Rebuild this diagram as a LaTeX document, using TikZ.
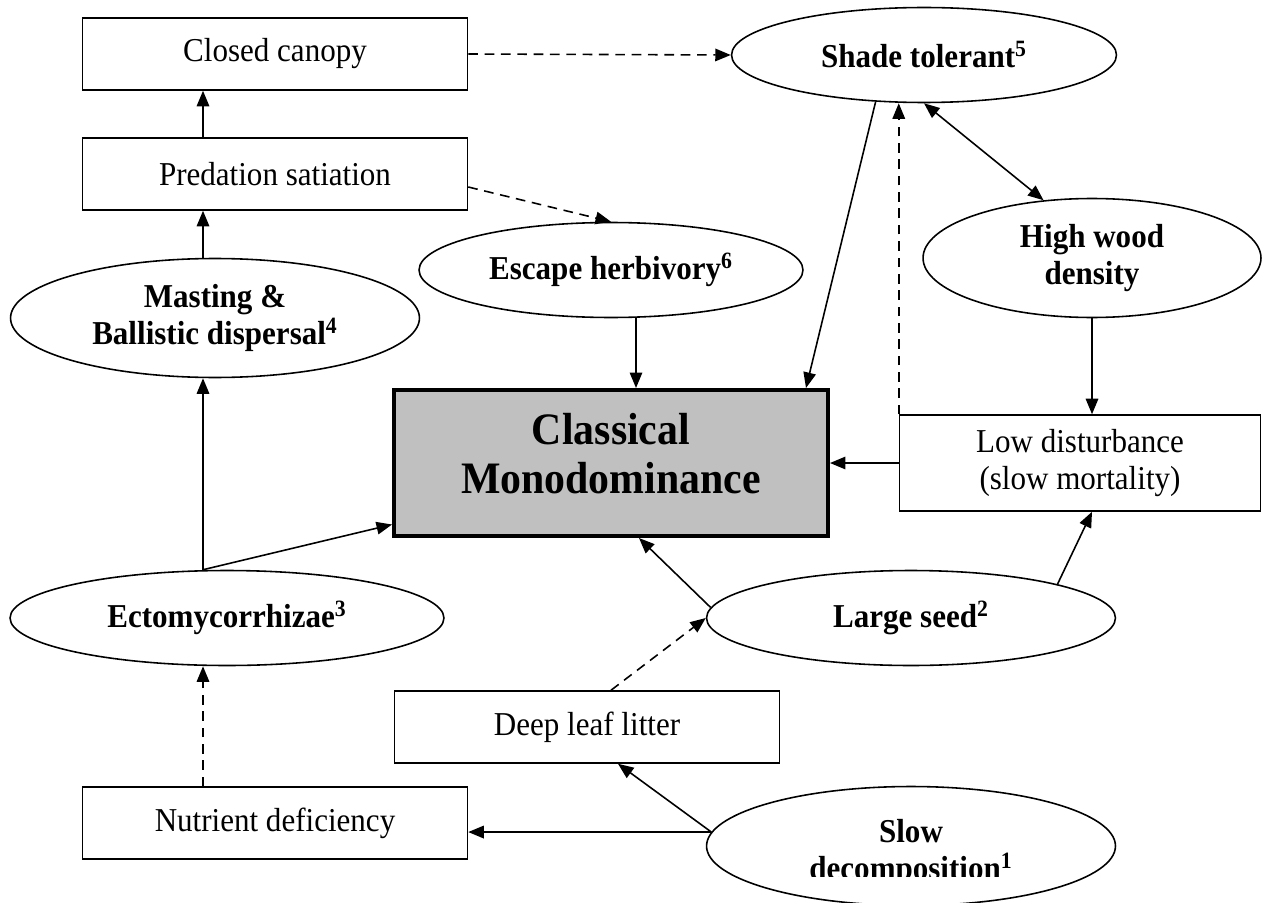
\documentclass[tikz,border=0pt]{standalone}
\usepackage{fontspec}
\setmainfont{Liberation Serif}[FakeStretch=0.93]
\usepackage{xcolor}
\usetikzlibrary{arrows.meta,calc,shapes.geometric}
\definecolor{monogray}{HTML}{C0C0C0}

\begin{document}
\begin{tikzpicture}[x=0.02cm,y=-0.02cm,>={Triangle[length=3.1mm,width=2.5mm]},
  txt/.style={font=\fontsize{19}{21}\selectfont,align=center},
  box/.style={txt,draw,line width=.9pt,inner sep=0pt,minimum width=7.7cm,minimum height=1.44cm},
  oval/.style={txt,ellipse,draw,line width=.9pt,inner sep=0pt,font=\fontsize{19}{21}\selectfont\bfseries},
  arr/.style={->,line width=.9pt}, darr/.style={arr,dash pattern=on 5.5pt off 3.8pt}]
\clip (0,0) rectangle (1266,902);
\node[box] (canopy) at (275,54) {Closed canopy};
\node[box] (pred) at (275,174) {Predation satiation};
\node[box] (nutr) at (275,823) {Nutrient deficiency};
\node[box] (litter) at (587,727) {Deep leaf litter};
\node[box,minimum width=7.22cm,minimum height=1.92cm] (lowd) at (1080,463) {Low disturbance\\(slow mortality)};
\node[draw,line width=2.3pt,fill=monogray,minimum width=8.68cm,minimum height=2.92cm,inner sep=0pt,
  text depth=.4cm,align=center,font=\fontsize{25.6}{28}\selectfont\bfseries] (mono) at (611,463) {Classical\\Monodominance};
\node[oval,minimum width=7.7cm,minimum height=1.9cm] (shade) at (924,55) {Shade tolerant\textsuperscript{5}};
\node[oval,minimum width=7.68cm,minimum height=1.9cm] (esc) at (611,270) {Escape herbivory\textsuperscript{6}};
\node[oval,minimum width=6.76cm,minimum height=2.38cm] (wood) at (1092,258) {High wood\\density};
\node[oval,minimum width=8.18cm,minimum height=2.38cm] (mast) at (215,318) {Masting \&\\Ballistic dispersal\textsuperscript{4}};
\node[oval,minimum width=8.68cm,minimum height=1.9cm] (ecto) at (227,618) {Ectomycorrhizae\textsuperscript{3}};
\node[oval,minimum width=8.18cm,minimum height=1.9cm] (seed) at (911,618) {Large seed\textsuperscript{2}};
\node[oval,minimum width=8.18cm,minimum height=2.38cm] (slow) at (911,846) {};
\begin{scope}
  \clip (700,780) rectangle (1120,876);
  \node[oval,draw=none] (slowtxt) at (911,853) {Slow\\decomposition\textsuperscript{1}};
\end{scope}
\coordinate (lx) at (203,0);
\coordinate (ex) at (636,0);
\draw[arr] (lx |- pred.north) -- (lx |- canopy.south);
\draw[arr] (lx |- mast.north) -- (lx |- pred.south);
\draw[arr] (lx |- ecto.north) -- (lx |- mast.south);
\draw[arr] (lx |- ecto.north) -- ($(mono.south west)!.09!(mono.north west)$);
\draw[darr] (lx |- nutr.north) -- (lx |- ecto.south);
\draw[arr] (slow.176) -- (slow.176 -| nutr.east);
\draw[arr] (slow.176) -- ($(litter.south)+(31,0)$);
\draw[darr] ($(litter.north)+(24,0)$) -- (seed.west);
\draw[arr] (seed.177) -- ($(mono.south)+(28,0)$);
\draw[arr] (seed.13) -- (wood.south |- lowd.south);
\draw[arr] (wood.south) -- (wood.south |- lowd.north);
\draw[arr] (lowd.west) -- (mono.east);
\draw[darr] (lowd.north west) -- (lowd.north west |- shade.south);
\draw[arr,<->] (shade.south) -- (wood.130);
\draw[arr] (shade.224) -- ($(mono.north east)+(-24,0)$);
\draw[arr] (esc.south -| ex) -- (ex |- mono.north);
\draw[darr] ($(pred.east)+(0,13)$) -- (esc.north);
\draw[darr] (canopy.east) -- (shade.west);
\end{tikzpicture}
\end{document}
